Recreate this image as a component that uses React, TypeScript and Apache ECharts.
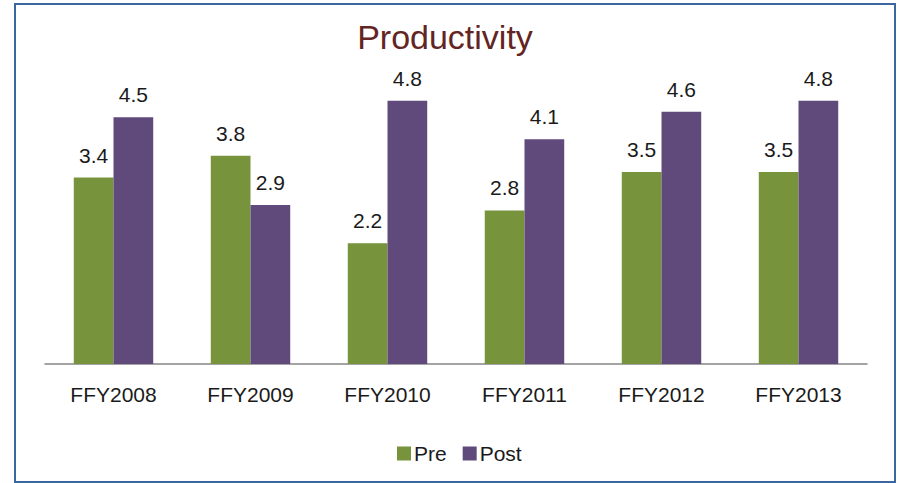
import React, { useEffect, useRef } from "react";
import * as echarts from "echarts";

const categories = ["FFY2008", "FFY2009", "FFY2010", "FFY2011", "FFY2012", "FFY2013"];
const preValues = [3.4, 3.8, 2.2, 2.8, 3.5, 3.5];
const postValues = [4.5, 2.9, 4.8, 4.1, 4.6, 4.8];
const seriesNames = ["Pre", "Post"];

const FONT = "'Liberation Sans Narrow', 'Arial Narrow', 'Liberation Sans', sans-serif";

export default function App() {
  const ref = useRef<HTMLDivElement>(null);
  useEffect(() => {
    if (!ref.current) return;
    const chart = echarts.init(ref.current, null, { renderer: "svg" });
    const labelStyle = {
      show: true,
      position: "top" as const,
      distance: 12,
      fontFamily: FONT,
      fontSize: 21,
      color: "#1a1a1a",
      formatter: (p: any) => Number(p.value).toFixed(1),
    };
    chart.setOption({
      animation: false,
      backgroundColor: "#ffffff",
      title: {
        text: "Productivity",
        left: 440,
        textAlign: "center",
        top: 15,
        textStyle: { fontFamily: FONT, fontSize: 34, fontWeight: "normal", color: "#632523" },
      },
      legend: {
        data: seriesNames,
        bottom: 19,
        left: 397,
        padding: 0,
        itemWidth: 14,
        itemHeight: 14,
        itemGap: 16,
        icon: "rect",
        textStyle: { fontFamily: FONT, fontSize: 21, color: "#1a1a1a", padding: [0, 0, 0, -2] },
      },
      grid: { left: 45, right: 33, top: 35, bottom: 119, containLabel: false },
      xAxis: {
        type: "category",
        data: categories,
        axisLine: { lineStyle: { color: "#868686", width: 1.5 } },
        axisTick: { length: 8, lineStyle: { color: "#868686", width: 1.5 } },
        axisLabel: { fontFamily: FONT, fontSize: 21, color: "#1a1a1a", margin: 20 },
      },
      yAxis: {
        type: "value",
        min: 0,
        max: 6,
        show: false,
        splitLine: { show: false },
      },
      series: [
        {
          name: seriesNames[0],
          type: "bar",
          data: preValues,
          barGap: "0%",
          barCategoryGap: "42%",
          itemStyle: { color: "#77933C" },
          label: labelStyle,
        },
        {
          name: seriesNames[1],
          type: "bar",
          data: postValues,
          barGap: "0%",
          barCategoryGap: "42%",
          itemStyle: { color: "#604A7B" },
          label: labelStyle,
        },
      ],
      graphic: [
        {
          type: "rect",
          shape: { x: 15, y: 4, width: 880, height: 478 },
          style: { fill: "none", stroke: "#3B679E", lineWidth: 2 },
          silent: true,
        },
      ],
    });
    return () => chart.dispose();
  }, []);
  return (
    <div
      ref={ref}
      style={{ position: "fixed", left: 0, top: 0, width: 900, height: 483 }}
    />
  );
}
